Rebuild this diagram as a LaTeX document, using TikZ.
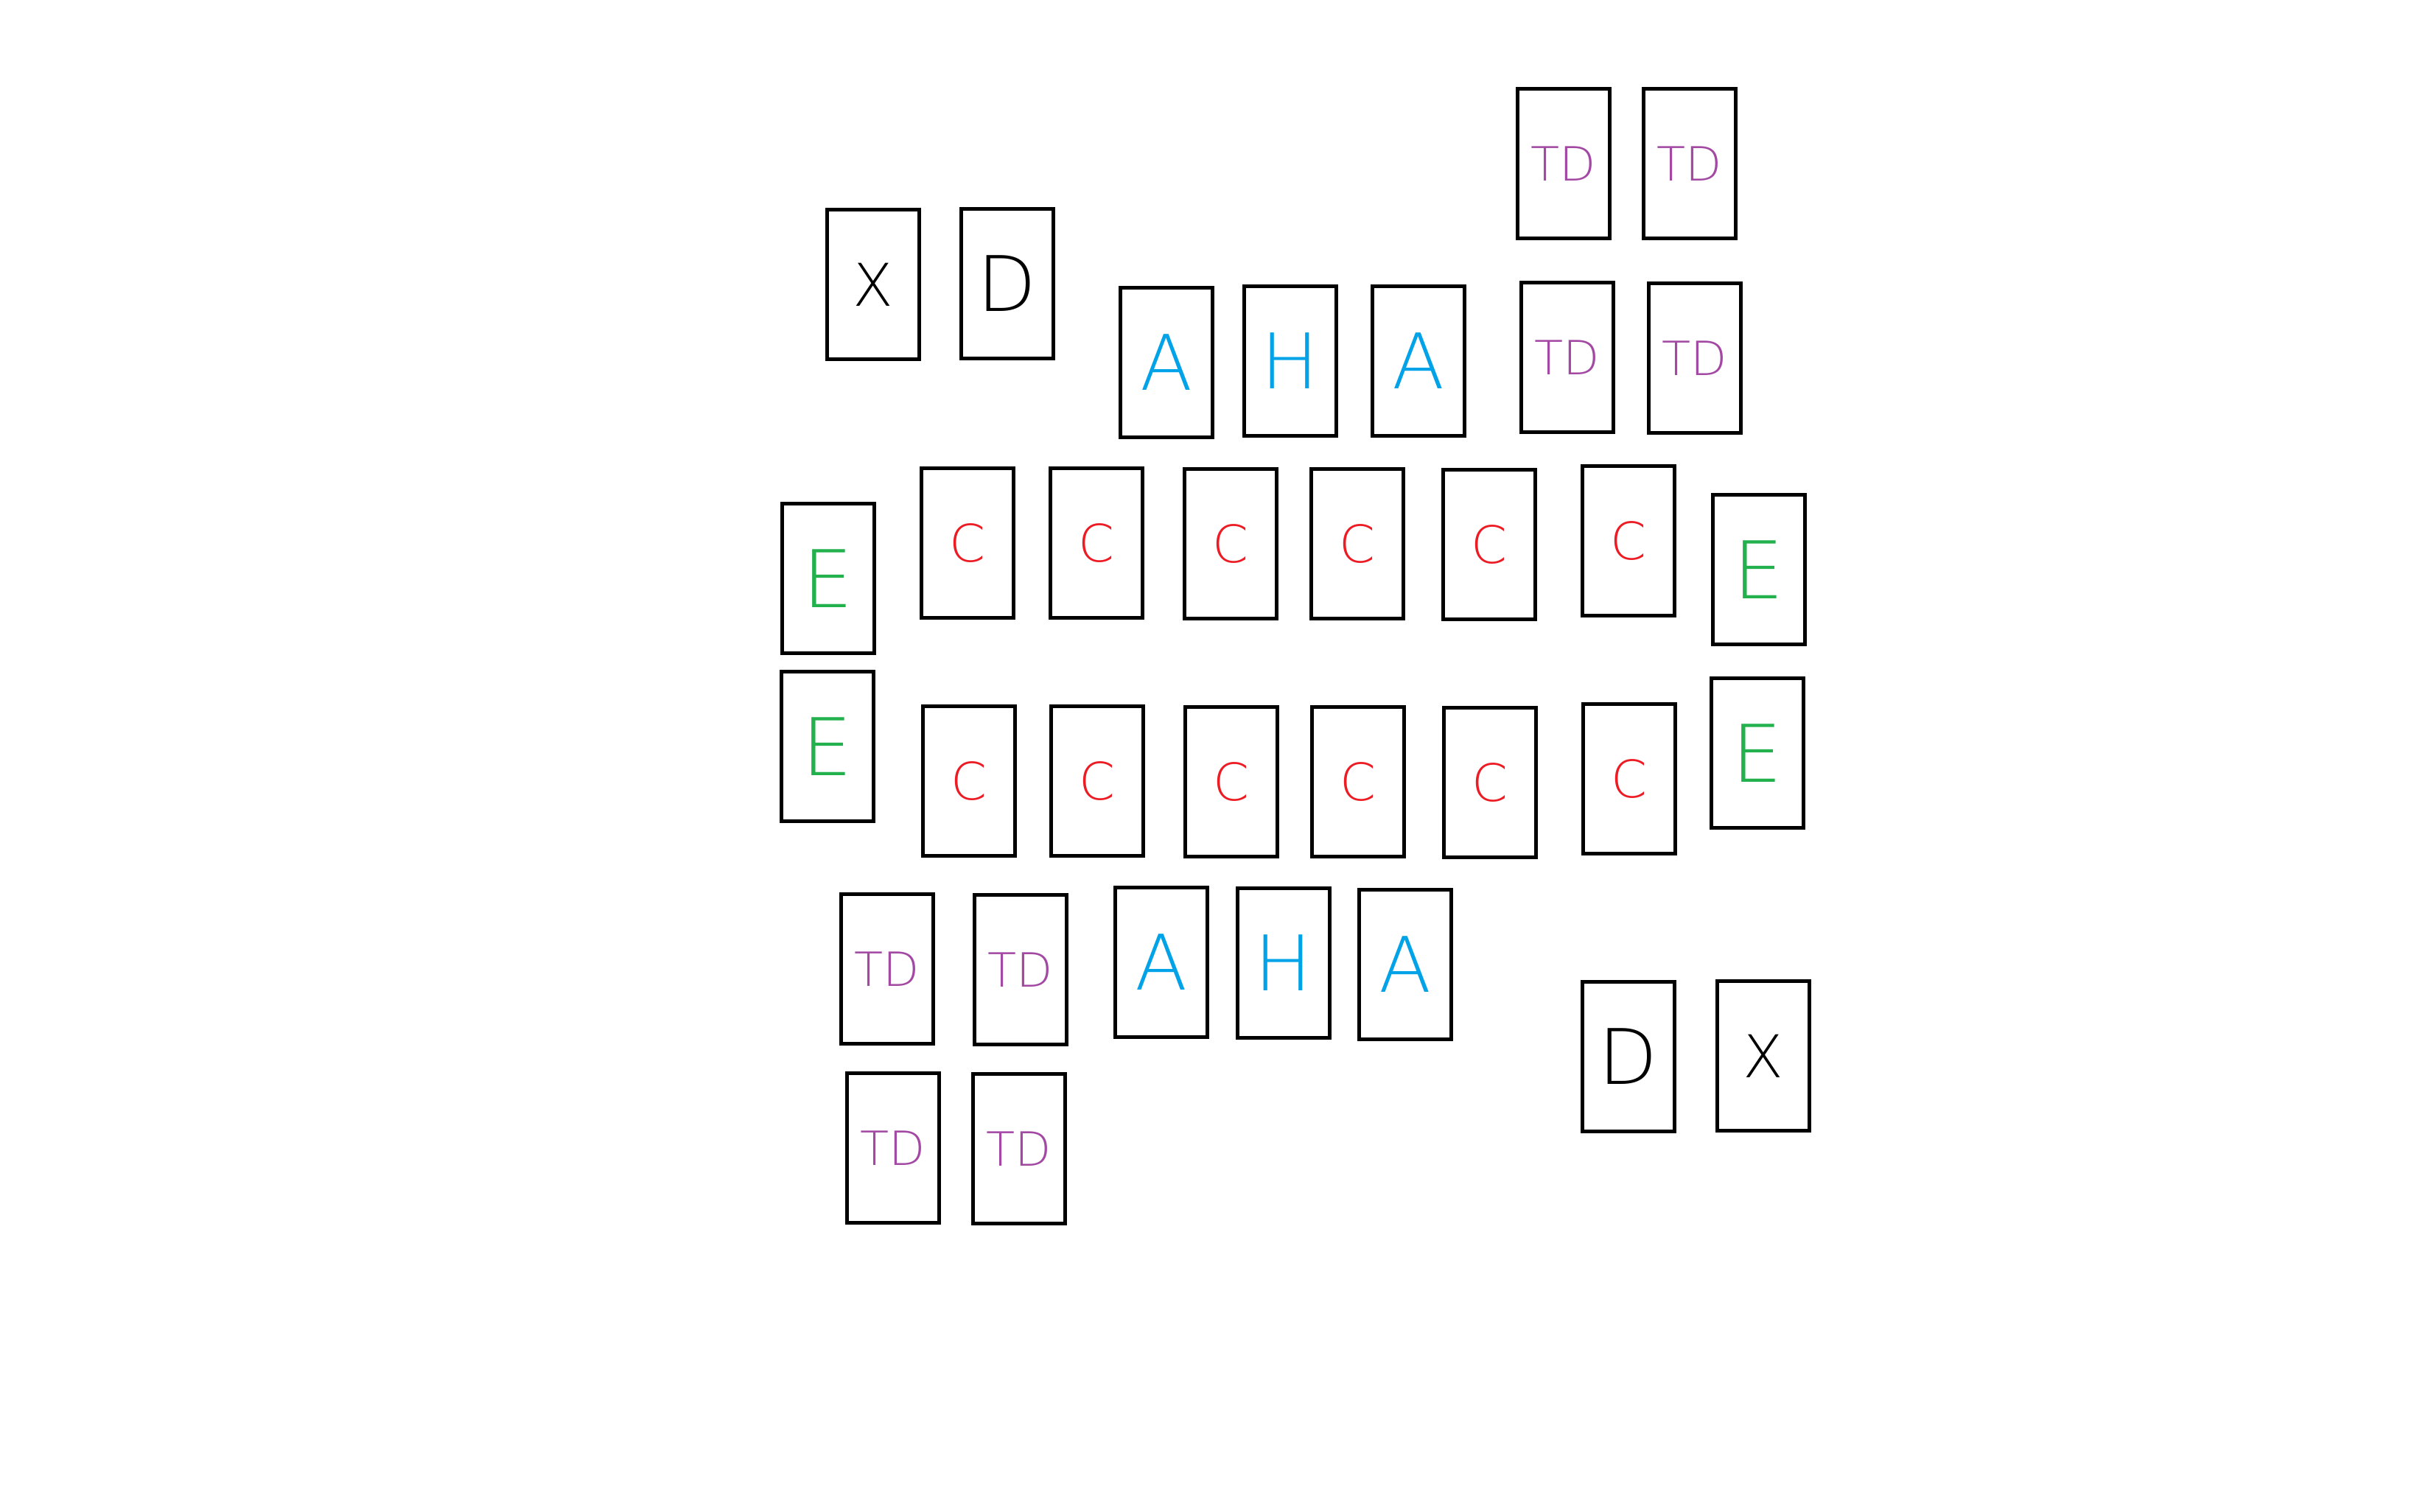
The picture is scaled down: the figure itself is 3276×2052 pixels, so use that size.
\documentclass[tikz,border=0pt]{standalone}
\usepackage{fontspec}
\newfontfamily\handfont{DejaVu Sans ExtraLight}
\definecolor{tdpurple}{RGB}{163,73,164}
\definecolor{ahblue}{RGB}{0,162,232}
\definecolor{cred}{RGB}{237,28,36}
\definecolor{egreen}{RGB}{34,177,76}
\tikzset{
  card/.style={draw=black, line width=1.25pt, minimum width=31.25pt, minimum height=50.75pt, inner sep=0pt, fill=white},
  tdcard/.style={card, text=tdpurple, font=\handfont\fontsize{16}{16}\selectfont},
  acard/.style={card, text=ahblue, font=\handfont\fontsize{26}{26}\selectfont},
  ccard/.style={card, text=cred, font=\handfont\fontsize{17.5}{17.5}\selectfont},
  ecard/.style={card, text=egreen, font=\handfont\fontsize{27}{27}\selectfont},
  xcard/.style={card, text=black, font=\handfont\fontsize{20}{20}\selectfont},
  dcard/.style={card, text=black, font=\handfont\fontsize{26}{26}\selectfont},
}
\begin{document}
\begin{tikzpicture}[x=0.25pt, y=-0.25pt]
\fill[white] (0,0) rectangle (3276,2052);
\useasboundingbox (0,0) rectangle (3276,2052);
% top right TD group
\node[tdcard] (td1) at (2122,222) {TD};
\node[tdcard] (td2) at (2293,222) {TD};
\node[tdcard] (td3) at (2127,485) {TD};
\node[tdcard] (td4) at (2300,486) {TD};
% top left X D, A H A
\node[xcard] (x1) at (1185,386) {X};
\node[dcard] (d1) at (1367,385) {D};
\node[acard] (a1) at (1583,492) {A};
\node[acard] (h1) at (1751,490) {H};
\node[acard] (a2) at (1925,490) {A};
% row of C 1
\node[ecard] (e1) at (1124,785) {E};
\node[ccard] (c11) at (1313,737) {C};
\node[ccard] (c12) at (1488,737) {C};
\node[ccard] (c13) at (1670,738) {C};
\node[ccard] (c14) at (1842,738) {C};
\node[ccard] (c15) at (2021,739) {C};
\node[ccard] (c16) at (2210,734) {C};
\node[ecard] (e2) at (2387,773) {E};
% row of C 2
\node[ecard] (e3) at (1123,1013) {E};
\node[ccard] (c21) at (1315,1060) {C};
\node[ccard] (c22) at (1489,1060) {C};
\node[ccard] (c23) at (1671,1061) {C};
\node[ccard] (c24) at (1843,1061) {C};
\node[ccard] (c25) at (2022,1062) {C};
\node[ccard] (c26) at (2211,1057) {C};
\node[ecard] (e4) at (2385,1022) {E};
% bottom
\node[tdcard] (tdb1) at (1204,1315) {TD};
\node[tdcard] (tdb2) at (1385,1316) {TD};
\node[acard] (a3) at (1576,1306) {A};
\node[acard] (h2) at (1742,1307) {H};
\node[acard] (a4) at (1907,1309) {A};
\node[dcard] (d2) at (2210,1434) {D};
\node[xcard] (x2) at (2393,1433) {X};
\node[tdcard] (tdb3) at (1212,1558) {TD};
\node[tdcard] (tdb4) at (1383,1559) {TD};
\end{tikzpicture}
\end{document}
